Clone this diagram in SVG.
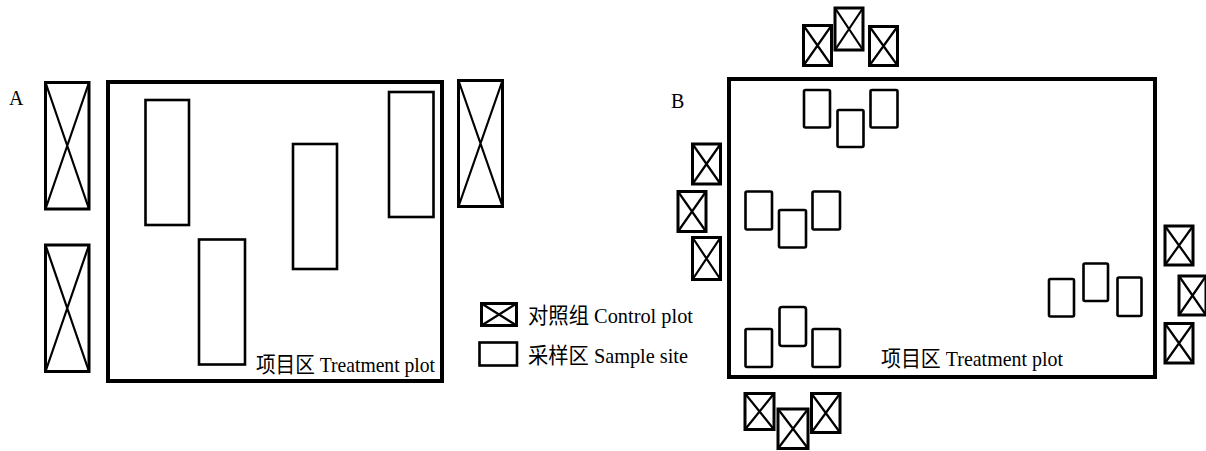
<svg xmlns="http://www.w3.org/2000/svg" width="1206" height="451" viewBox="0 0 1206 451">
<style>
.plot{fill:none;stroke:#000;stroke-width:4}
.site{fill:#fff;stroke:#000;stroke-width:2.6}
.ctrl{fill:#fff;stroke:#000;stroke-width:3}
.x{fill:none;stroke:#000;stroke-width:2.2}
.t{font-family:"Liberation Serif","Noto Sans CJK SC",serif;font-size:22px;fill:#000}
.lbl{font-family:"Liberation Serif",serif;font-size:20px;fill:#000}
</style>
<rect width="1206" height="451" fill="#fff"/>

<!-- Panel A -->
<g id="panelA">
  <text class="lbl" x="9" y="105">A</text>
  <g id="A-plot"><rect class="plot" x="108" y="82" width="334" height="299"/>
    <text class="t" x="256" y="372" textLength="179" lengthAdjust="spacingAndGlyphs">项目区 Treatment plot</text></g>
  <g id="A-ctrl1"><rect class="ctrl" x="45.5" y="82.5" width="43.5" height="126.5"/><path class="x" d="M45.5 82.5L89 209M89 82.5L45.5 209"/></g>
  <g id="A-ctrl2"><rect class="ctrl" x="45.5" y="245" width="43.5" height="126.5"/><path class="x" d="M45.5 245L89 371.5M89 245L45.5 371.5"/></g>
  <g id="A-ctrl3"><rect class="ctrl" x="458.5" y="80.5" width="44" height="126"/><path class="x" d="M458.5 80.5L502.5 206.5M502.5 80.5L458.5 206.5"/></g>
  <g id="A-site1"><rect class="site" x="145.5" y="100" width="43.5" height="125"/></g>
  <g id="A-site2"><rect class="site" x="199" y="239.5" width="46" height="125"/></g>
  <g id="A-site3"><rect class="site" x="293" y="144" width="44" height="125"/></g>
  <g id="A-site4"><rect class="site" x="389" y="92" width="44.5" height="125"/></g>
</g>

<!-- Legend -->
<g id="legend">
  <g id="legend-ctrl"><rect class="ctrl" x="481.5" y="303.5" width="35" height="22" stroke-width="3.5"/><path class="x" d="M481.5 303.5L516.5 325.5M516.5 303.5L481.5 325.5" stroke-width="2.5"/>
    <text class="t" x="528" y="323" textLength="165" lengthAdjust="spacingAndGlyphs">对照组 Control plot</text></g>
  <g id="legend-site"><rect class="site" x="479.5" y="342.5" width="37.5" height="23"/>
    <text class="t" x="528" y="363" textLength="160" lengthAdjust="spacingAndGlyphs">采样区 Sample site</text></g>
</g>

<!-- Panel B -->
<g id="panelB">
  <text class="lbl" x="671" y="108">B</text>
  <g id="B-plot"><rect class="plot" x="729" y="79" width="426" height="298"/>
    <text class="t" x="881" y="366" textLength="182" lengthAdjust="spacingAndGlyphs">项目区 Treatment plot</text></g>

  <g id="B-ctrl-top1"><rect class="ctrl" x="803.5" y="25.5" width="28" height="40"/><path class="x" d="M803.5 25.5L831.5 65.5M831.5 25.5L803.5 65.5"/></g>
  <g id="B-ctrl-top2"><rect class="ctrl" x="835" y="8" width="28" height="42"/><path class="x" d="M835 8L863 50M863 8L835 50"/></g>
  <g id="B-ctrl-top3"><rect class="ctrl" x="869.5" y="26.5" width="28" height="39"/><path class="x" d="M869.5 26.5L897.5 65.5M897.5 26.5L869.5 65.5"/></g>

  <g id="B-site-top1"><rect class="site" x="804" y="90" width="26" height="37.5" rx="1.5"/></g>
  <g id="B-site-top2"><rect class="site" x="837.5" y="110" width="26" height="37" rx="1.5"/></g>
  <g id="B-site-top3"><rect class="site" x="870.5" y="90" width="27" height="37.5" rx="1.5"/></g>

  <g id="B-ctrl-left1"><rect class="ctrl" x="692.5" y="144" width="28" height="40"/><path class="x" d="M692.5 144L720.5 184M720.5 144L692.5 184"/></g>
  <g id="B-ctrl-left2"><rect class="ctrl" x="678" y="191.5" width="28" height="40"/><path class="x" d="M678 191.5L706 231.5M706 191.5L678 231.5"/></g>
  <g id="B-ctrl-left3"><rect class="ctrl" x="692.5" y="237.5" width="28" height="42"/><path class="x" d="M692.5 237.5L720.5 279.5M720.5 237.5L692.5 279.5"/></g>

  <g id="B-site-mid1"><rect class="site" x="745.5" y="191.5" width="26.5" height="38" rx="1.5"/></g>
  <g id="B-site-mid2"><rect class="site" x="779" y="210" width="27" height="37.5" rx="1.5"/></g>
  <g id="B-site-mid3"><rect class="site" x="812.5" y="191.5" width="27.5" height="38" rx="1.5"/></g>

  <g id="B-site-bot1"><rect class="site" x="745.5" y="329" width="26.5" height="38" rx="1.5"/></g>
  <g id="B-site-bot2"><rect class="site" x="779.5" y="307" width="26.5" height="39" rx="2.5"/></g>
  <g id="B-site-bot3"><rect class="site" x="812.5" y="329" width="27.5" height="38" rx="1.5"/></g>

  <g id="B-ctrl-bot1"><rect class="ctrl" x="745" y="393.5" width="29" height="36"/><path class="x" d="M745 393.5L774 429.5M774 393.5L745 429.5"/></g>
  <g id="B-ctrl-bot2"><rect class="ctrl" x="778" y="409" width="30" height="39.5"/><path class="x" d="M778 409L808 448.5M808 409L778 448.5"/></g>
  <g id="B-ctrl-bot3"><rect class="ctrl" x="811.5" y="393.5" width="28.5" height="39"/><path class="x" d="M811.5 393.5L840 432.5M840 393.5L811.5 432.5"/></g>

  <g id="B-site-right1"><rect class="site" x="1049" y="279" width="25" height="37.5" rx="1.5"/></g>
  <g id="B-site-right2"><rect class="site" x="1083.5" y="263.5" width="24.5" height="37.5" rx="1.5"/></g>
  <g id="B-site-right3"><rect class="site" x="1117.5" y="277.5" width="24" height="38.5" rx="1.5"/></g>

  <g id="B-ctrl-right1"><rect class="ctrl" x="1165" y="226" width="28" height="39"/><path class="x" d="M1165 226L1193 265M1193 226L1165 265"/></g>
  <g id="B-ctrl-right2"><rect class="ctrl" x="1179" y="276" width="27" height="39"/><path class="x" d="M1179 276L1206 315M1206 276L1179 315"/></g>
  <g id="B-ctrl-right3"><rect class="ctrl" x="1165" y="323.5" width="28" height="39.5"/><path class="x" d="M1165 323.5L1193 363M1193 323.5L1165 363"/></g>
</g>
</svg>
